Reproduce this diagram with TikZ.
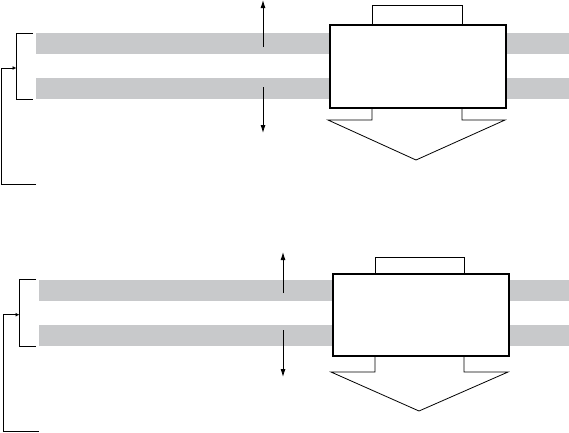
\documentclass[tikz,border=0pt]{standalone}
\usetikzlibrary{arrows.meta, positioning}
\definecolor{barGray}{RGB}{200,201,203}

\begin{document}
\begin{tikzpicture}[
    x=1pt, y=-1pt,
    bar/.style={rectangle, fill=barGray, inner sep=0pt, minimum height=20.5pt, anchor=north west},
    unit/.style={rectangle, draw, fill=white, line width=1.7pt, inner sep=0pt, anchor=north west},
    outline/.style={line width=0.8pt},
    brace/.style={line width=1pt},
    move/.style={-{Latex[length=8pt,width=5pt]}, line width=0.9pt},
    feed/.style={-{Latex[length=4pt,width=4pt]}, line width=1pt}
  ]
    \useasboundingbox (0,0) rectangle (569,432);

    % Upper panel: two strips
    \node[bar, minimum width=533pt] (stripA1) at (36,33) {};
    \node[bar, minimum width=533pt] (stripA2) at (36,78) {};

    % Upper panel: unit with tabs and output arrow
    \draw[outline] (372,24) -- (372,5) -- (462,5) -- (462,24);
    \node[unit, minimum width=176pt, minimum height=83pt] (unitA) at (329,24) {};
    \draw[outline] (372,107) -- (372,120) -- (328,120) -- (416,160) -- (505,120) -- (462,120) -- (462,107);

    % Upper panel: strip movement
    \coordinate (upA) at (263,47);
    \coordinate (upAend) at (263,0);
    \coordinate (dnA) at (263,87);
    \coordinate (dnAend) at (263,133);
    \draw[move] (upA) -- (upAend);
    \draw[move] (dnA) -- (dnAend);

    % Upper panel: bracket and feedback
    \coordinate (brA) at (16.5,68);
    \coordinate (fbA) at (36,184);
    \draw[brace] (33,33.5) -| (16.5,99) -- (33,99);
    \draw[feed] (fbA) -- (1,184) |- (brA);

    % Lower panel: two strips
    \node[bar, minimum width=530pt] (stripB1) at (39,280) {};
    \node[bar, minimum width=530pt] (stripB2) at (39,325) {};

    % Lower panel: unit with tabs and output arrow
    \draw[outline] (375,273) -- (375,257) -- (464,257) -- (464,273);
    \node[unit, minimum width=176pt, minimum height=82pt] (unitB) at (332,273) {};
    \draw[outline] (375,355) -- (375,372) -- (331,372) -- (419,411) -- (508,372) -- (464,372) -- (464,355);

    % Lower panel: strip movement
    \coordinate (upB) at (283,293);
    \coordinate (upBend) at (283,252);
    \coordinate (dnB) at (283,330);
    \coordinate (dnBend) at (283,377);
    \draw[move] (upB) -- (upBend);
    \draw[move] (dnB) -- (dnBend);

    % Lower panel: bracket and feedback
    \coordinate (brB) at (19.5,314.7);
    \coordinate (fbB) at (39,431);
    \draw[brace] (36,279) -| (19.5,346.5) -- (36,346.5);
    \draw[feed] (fbB) -- (3.5,431) |- (brB);
\end{tikzpicture}
\end{document}
